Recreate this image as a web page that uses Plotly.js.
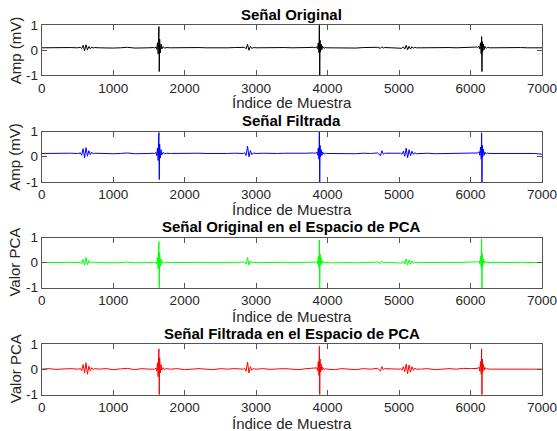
<!DOCTYPE html>
<html>
<head>
<meta charset="utf-8">
<script src="https://cdn.plot.ly/plotly-3.0.1.min.js"></script>
<style>html,body{margin:0;padding:0;background:#fff;}#chart{width:557px;height:431px;}</style>
</head>
<body>
<div id="chart"></div>
<script>
// Sample indices (x) shared by the four traces
const sampleIndex = [
  0,100,200,300,400,500,
  520,540,560,580,600,620,640,660,680,700,720,740,
  800,900,1000,1100,1200,1300,1400,1500,1560,
  1580,1600,1610,1620,1630,1635,1640,1645,1650,1660,1670,1680,1700,1720,1740,
  1800,1900,2000,2100,2200,2300,2400,2500,2600,2700,2800,
  2820,2840,2860,2880,2900,2920,2940,2960,
  3000,3100,3200,3300,3400,3500,3600,3700,3800,
  3830,3850,3860,3870,3880,3885,3890,3895,3900,3910,3920,3930,3950,3970,3990,
  4100,4200,4300,4400,4500,4600,4700,4740,4760,4780,4800,4900,5000,
  5020,5040,5060,5080,5100,5120,5140,5160,5180,5200,5220,5240,
  5300,5400,5500,5600,5700,5800,5900,6000,6080,
  6100,6120,6130,6140,6150,6155,6160,6165,6170,6180,6190,6200,6220,6240,6260,
  6300,6400,6500,6600,6700,6800,6900,7000
];

// Señal Original (mV)
const senalOriginal = [
  0.10,0.11,0.09,0.10,0.11,0.10,
  0.10,0.12,0.07,0.20,-0.02,0.22,0.02,0.15,0.06,0.13,0.09,0.11,
  0.10,0.11,0.09,0.10,0.12,0.09,0.11,0.10,0.11,
  0.10,0.13,0.04,0.30,-0.15,0.55,0.95,-0.85,0.45,-0.10,0.25,0.05,0.15,0.08,0.11,
  0.10,0.11,0.09,0.10,0.11,0.10,0.09,0.11,0.10,0.11,0.10,
  0.10,0.12,0.06,0.24,0.00,0.16,0.07,0.11,
  0.10,0.11,0.09,0.10,0.11,0.10,0.09,0.11,0.12,
  0.11,0.14,0.06,0.30,-0.10,1.10,-1.10,0.40,-0.05,0.25,0.02,0.16,0.08,0.11,0.10,
  0.09,0.11,0.10,0.09,0.11,0.10,0.12,0.08,0.14,0.09,0.11,0.10,0.10,
  0.11,0.08,0.14,0.05,0.20,0.02,0.16,0.05,0.14,0.08,0.12,0.10,
  0.10,0.11,0.09,0.10,0.11,0.10,0.12,0.11,0.13,
  0.12,0.16,0.05,0.30,-0.15,0.55,-0.85,0.35,-0.05,0.25,0.02,0.16,0.08,0.12,0.10,
  0.10,0.11,0.10,0.10,0.11,0.10,0.10,0.10
];

// Señal Filtrada (mV)
const senalFiltrada = [
  0.13,0.14,0.12,0.13,0.14,0.13,
  0.13,0.16,0.06,0.32,-0.04,0.36,0.02,0.24,0.08,0.18,0.11,0.14,
  0.13,0.14,0.12,0.13,0.15,0.12,0.14,0.13,0.14,
  0.13,0.17,0.05,0.35,-0.15,0.60,0.96,-0.90,0.50,-0.05,0.28,0.07,0.18,0.11,0.14,
  0.13,0.14,0.12,0.13,0.14,0.13,0.12,0.14,0.13,0.14,0.13,
  0.13,0.16,0.05,0.42,0.00,0.24,0.08,0.15,
  0.13,0.14,0.12,0.13,0.14,0.13,0.12,0.14,0.15,
  0.14,0.18,0.06,0.35,-0.10,1.10,-1.10,0.45,0.00,0.28,0.05,0.19,0.10,0.14,0.13,
  0.12,0.14,0.13,0.12,0.14,0.13,0.15,0.04,0.24,0.10,0.14,0.13,0.13,
  0.14,0.10,0.22,0.02,0.34,-0.04,0.28,0.04,0.22,0.09,0.16,0.12,
  0.13,0.14,0.12,0.13,0.14,0.13,0.15,0.14,0.16,
  0.15,0.20,0.06,0.38,-0.10,0.95,-1.05,0.45,0.00,0.30,0.06,0.19,0.11,0.15,0.13,
  0.13,0.14,0.13,0.13,0.14,0.13,0.13,0.10
];

// Señal Original en el Espacio de PCA
const pcaOriginal = [
  0.00,0.01,-0.01,0.00,0.01,0.00,
  0.00,0.02,-0.04,0.12,-0.10,0.20,-0.08,0.08,-0.03,0.04,-0.01,0.01,
  0.00,0.01,-0.01,0.00,0.02,-0.01,0.01,0.00,0.01,
  0.00,0.03,-0.06,0.20,-0.25,0.45,0.84,-1.05,0.40,-0.15,0.15,-0.03,0.05,-0.01,0.01,
  0.00,0.01,-0.01,0.00,0.01,0.00,-0.01,0.01,0.00,0.01,0.00,
  0.00,0.02,-0.05,0.20,-0.10,0.07,-0.02,0.01,
  0.00,0.01,-0.01,0.00,0.01,0.00,-0.01,0.01,0.02,
  0.01,0.04,-0.05,0.25,-0.20,0.90,-1.10,0.35,-0.10,0.18,-0.04,0.07,-0.01,0.01,0.00,
  -0.01,0.01,0.00,-0.01,0.01,0.00,0.02,-0.03,0.06,-0.01,0.01,0.00,0.00,
  0.01,-0.02,0.06,-0.06,0.15,-0.10,0.10,-0.06,0.06,-0.03,0.02,0.00,
  0.00,0.01,-0.01,0.00,0.01,0.00,0.02,0.01,0.03,
  0.02,0.06,-0.06,0.25,-0.20,0.95,-1.05,0.35,-0.10,0.15,-0.03,0.06,0.00,0.01,0.00,
  0.00,0.01,0.00,0.00,0.01,0.00,0.00,0.00
];

// Señal Filtrada en el Espacio de PCA
const pcaFiltrada = [
  0.00,0.02,-0.01,0.01,0.02,0.00,
  0.00,0.03,-0.06,0.18,-0.15,0.25,-0.20,0.12,-0.06,0.06,-0.02,0.02,
  0.00,0.02,-0.02,0.01,0.03,-0.02,0.02,0.00,0.02,
  0.00,0.04,-0.08,0.25,-0.30,0.50,0.80,-1.05,0.45,-0.15,0.18,-0.04,0.06,-0.02,0.02,
  0.00,0.02,-0.02,0.01,0.02,0.00,-0.02,0.02,0.00,0.02,0.00,
  0.00,0.03,-0.08,0.28,-0.15,0.10,-0.04,0.02,
  0.00,0.02,-0.01,0.01,0.02,0.00,-0.02,0.02,0.03,
  0.02,0.05,-0.06,0.30,-0.25,0.90,-1.10,0.40,-0.12,0.20,-0.05,0.08,-0.02,0.02,0.00,
  -0.02,0.02,0.00,-0.02,0.02,0.00,0.03,-0.08,0.10,-0.02,0.02,0.00,0.00,
  0.02,-0.04,0.10,-0.10,0.20,-0.18,0.16,-0.12,0.10,-0.05,0.04,0.00,
  0.00,0.02,-0.02,0.01,0.02,0.00,0.03,0.02,0.04,
  0.03,0.08,-0.08,0.30,-0.20,0.80,-1.05,0.40,-0.10,0.18,-0.04,0.07,0.00,0.02,0.00,
  0.00,0.01,0.00,0.00,0.01,0.00,0.00,0.00
];

const panelTitles = ['Señal Original','Señal Filtrada','Señal Original en el Espacio de PCA','Señal Filtrada en el Espacio de PCA'];
const yLabels = ['Amp (mV)','Amp (mV)','Valor PCA','Valor PCA'];
const xLabel = 'Índice de Muestra';
const xTicks = [0,1000,2000,3000,4000,5000,6000,7000];
const yTicks = [-1,0,1];
const series = [senalOriginal, senalFiltrada, pcaOriginal, pcaFiltrada];
const colors = ['#000000','#0000ff','#00ff00','#ff0000'];

const W = 557, H = 431;
const left = 41.7, right = 542;
// panel [top, bottom] in pixels
const panels = [[25.3,75.3],[131.5,182],[237.5,287.7],[343.8,394.5]];
const titleY = [14.5,120.5,227,333];
const xLabelY = [102.5,209.5,316,423];

const font = 'Liberation Sans, Arial, Helvetica, sans-serif';
const axColor = '#262626';
const traces = [];
const layout = {
  width: W, height: H,
  margin: {l:0,r:0,t:0,b:0},
  paper_bgcolor: '#fff', plot_bgcolor: '#fff',
  showlegend: false,
  font: {family: font, color: axColor, size: 13.5},
  annotations: []
};

for (let i = 0; i < 4; i++) {
  const n = i === 0 ? '' : String(i+1);
  traces.push({
    x: sampleIndex, y: series[i], type: 'scatter', mode: 'lines',
    line: {color: colors[i], width: 1},
    xaxis: 'x'+n, yaxis: 'y'+n, hoverinfo: 'skip'
  });
  const [t,b] = panels[i];
  const common = {
    showline: true, linecolor: '#555', linewidth: 1, mirror: 'ticks',
    ticks: 'inside', ticklen: 5, tickcolor: '#555', tickwidth: 1,
    showgrid: false, zeroline: false, ticklabeloverflow: 'allow',
    tickfont: {family: font, size: 13.5, color: axColor}
  };
  layout['xaxis'+n] = Object.assign({}, common, {
    domain: [left/W, right/W], anchor: 'y'+n, range: [0,7000],
    tickmode: 'array', tickvals: xTicks, ticktext: xTicks.map(String)
  });
  layout['yaxis'+n] = Object.assign({}, common, {
    domain: [1-b/H, 1-t/H], anchor: 'x'+n, range: [-1,1],
    tickmode: 'array', tickvals: yTicks, ticktext: yTicks.map(String)
  });
  layout.annotations.push({
    text: '<b>'+panelTitles[i]+'</b>', xref:'paper', yref:'paper',
    x: (left+right)/2/W, y: 1-titleY[i]/H, xanchor:'center', yanchor:'middle',
    showarrow:false, font:{family:font, size:15, color:'#000'}
  });
  layout.annotations.push({
    text: xLabel, xref:'paper', yref:'paper',
    x: (left+right)/2/W, y: 1-xLabelY[i]/H, xanchor:'center', yanchor:'middle',
    showarrow:false, font:{family:font, size:15, color:axColor}
  });
  layout.annotations.push({
    text: yLabels[i], xref:'paper', yref:'paper', textangle: -90,
    x: 15/W, y: 1-(t+b)/2/H, xanchor:'center', yanchor:'middle',
    showarrow:false, font:{family:font, size:15, color:axColor}
  });
}

Plotly.newPlot('chart', traces, layout, {staticPlot:true, displayModeBar:false});
</script>
</body>
</html>
